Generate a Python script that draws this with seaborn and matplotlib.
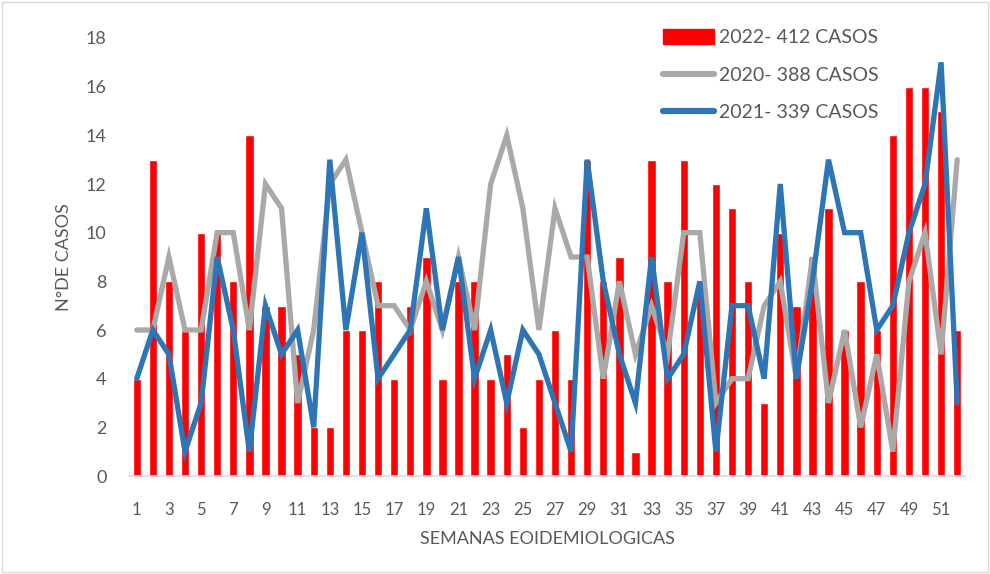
import pandas as pd
import numpy as np
import matplotlib
matplotlib.use("Agg")
import matplotlib.pyplot as plt
import seaborn as sns
from matplotlib.patches import Patch
from matplotlib.lines import Line2D

# casos por semana epidemiologica
semanas = list(range(1, 53))
casos_2022 = [4, 13, 8, 6, 10, 10, 8, 14, 7, 7, 5, 2, 2, 6, 6, 8, 4, 7, 9, 4,
              8, 8, 4, 5, 2, 4, 6, 4, 13, 8, 9, 1, 13, 8, 13, 8, 12, 11, 8, 3,
              10, 7, 9, 11, 6, 8, 6, 14, 16, 16, 15, 6]
casos_2020 = [6, 6, 9, 6, 6, 10, 10, 6, 12, 11, 3, 6, 12, 13, 10, 7, 7, 6, 8, 6,
              9, 6, 12, 14, 11, 6, 11, 9, 9, 4, 8, 5, 7, 5, 10, 10, 3, 4, 4, 7,
              8, 4, 9, 3, 6, 2, 5, 1, 8, 10, 5, 13]
casos_2021 = [4, 6, 5, 1, 3, 9, 6, 1, 7, 5, 6, 2, 13, 6, 10, 4, 5, 6, 11, 6,
              9, 4, 6, 3, 6, 5, 3, 1, 13, 8, 5, 3, 9, 4, 5, 8, 1, 7, 7, 4,
              12, 4, 8, 13, 10, 10, 6, 7, 10, 12, 17, 3]
etiquetas = ["2022- 412 CASOS", "2020- 388 CASOS", "2021- 339 CASOS"]

df = pd.DataFrame({"semana": semanas, "c2022": casos_2022,
                   "c2020": casos_2020, "c2021": casos_2021})
df["pos"] = df["semana"] - 1

sns.set_style("white")
plt.rcParams["font.family"] = ["Lato", "DejaVu Sans"]
texto = "#595959"

fig = plt.figure(figsize=(9.9, 5.74), dpi=100)
ax = fig.add_axes([0.130, 0.1707, 0.845, 0.7631])

sns.barplot(data=df, x="pos", y="c2022", color="#FF0000", saturation=1,
            width=0.52, ax=ax, order=list(df["pos"]))
sns.lineplot(data=df, x="pos", y="c2020", color="#ABA8A8", linewidth=3.8,
             ax=ax, solid_capstyle="round", solid_joinstyle="miter")
sns.lineplot(data=df, x="pos", y="c2021", color="#2E75B6", linewidth=3.8,
             ax=ax, solid_capstyle="round", solid_joinstyle="miter")

ax.set_xlim(-0.5, 51.5)
ax.set_ylim(0, 18)
ax.set_yticks(range(0, 19, 2))
ax.set_xticks(range(0, 52, 2))
ax.set_xticklabels([str(s) for s in semanas[::2]])
ax.tick_params(axis="both", length=0, colors=texto)
ax.tick_params(axis="y", labelsize=13, pad=16)
ax.tick_params(axis="x", labelsize=12, pad=19)

sns.despine(ax=ax, left=True)
ax.spines["bottom"].set_color("#D9D9D9")
ax.spines["bottom"].set_linewidth(1.2)

ax.set_xlabel("SEMANAS EOIDEMIOLOGICAS", fontsize=13, color=texto, labelpad=9)
ax.set_ylabel("N°DE CASOS", fontsize=13, color=texto, labelpad=10)

handles = [Patch(color="#FF0000"),
           Line2D([0], [0], color="#ABA8A8", linewidth=4.5, solid_capstyle="round"),
           Line2D([0], [0], color="#2E75B6", linewidth=4.5, solid_capstyle="round")]
leg = fig.legend(handles, etiquetas, loc="upper left", bbox_to_anchor=(0.652, 0.980),
                 frameon=False, fontsize=14, handlelength=2.6, handleheight=0.8,
                 labelspacing=1.05, handletextpad=0.3)
for t in leg.get_texts():
    t.set_color(texto)

fig.patches.append(plt.Rectangle((0.002, 0.003), 0.996, 0.994, transform=fig.transFigure,
                                 fill=False, edgecolor="#D9D9D9", linewidth=1))

fig.savefig("out.png", dpi=100)
